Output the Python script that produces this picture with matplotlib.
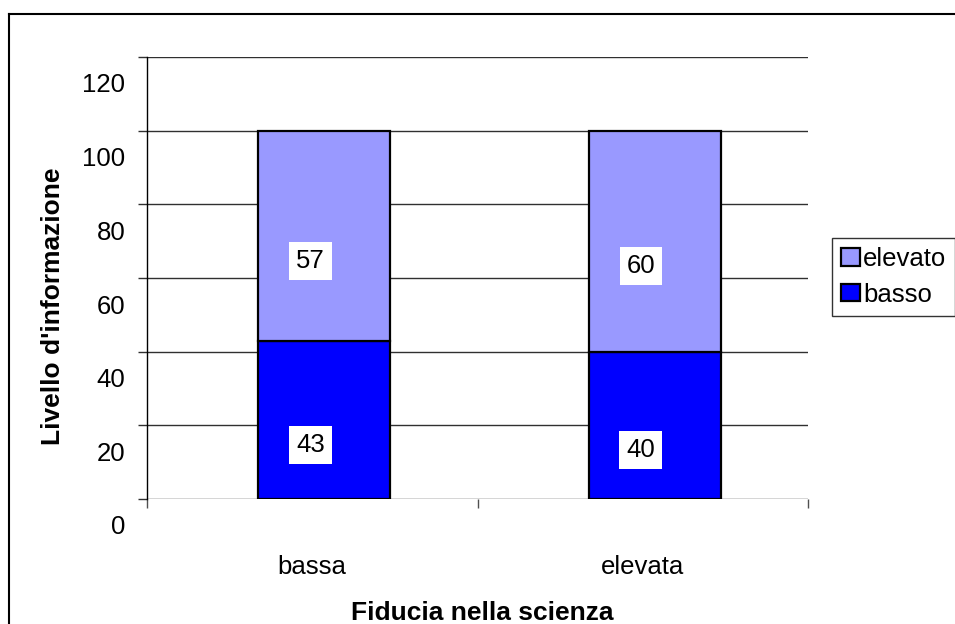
import matplotlib
matplotlib.use("Agg")
import matplotlib.pyplot as plt
from matplotlib.transforms import ScaledTranslation
from matplotlib.lines import Line2D
import numpy as np

plt.rcParams['font.family'] = ['Liberation Sans', 'DejaVu Sans']

categories = ['bassa', 'elevata']
basso = [43, 40]
elevato = [57, 60]
yticks = [0, 20, 40, 60, 80, 100, 120]
xlabel = 'Fiducia nella scienza'
ylabel = "Livello d'informazione"

W, H, DPI = 955, 624, 100
fig = plt.figure(figsize=(W / DPI, H / DPI), dpi=DPI)
ax = fig.add_axes([147 / W, 1 - 499 / H, (808 - 147) / W, (499 - 57) / H])

FS = 18.5
FSB = 19
x = np.arange(len(categories))

def px(dx, dy):
    return ScaledTranslation(dx / DPI, dy / DPI, fig.dpi_scale_trans)

bar_tr = ax.transData + px(12, 0)
b1 = ax.bar(x, basso, width=0.4, color='#0000FF', edgecolor='black', linewidth=1.6, label='basso', zorder=3)
b2 = ax.bar(x, elevato, width=0.4, bottom=basso, color='#9999FF', edgecolor='black', linewidth=1.6, label='elevato', zorder=3)
for p in list(b1) + list(b2):
    p.set_transform(bar_tr)

lab_tr = ax.transData + px(-2, -25)
for i in range(len(categories)):
    ax.text(x[i], basso[i] / 2, str(basso[i]), ha='center', va='center', fontsize=FS,
            transform=lab_tr, zorder=5,
            bbox=dict(boxstyle='square,pad=0.27', facecolor='white', edgecolor='none'))
    ax.text(x[i], basso[i] + elevato[i] / 2, str(elevato[i]), ha='center', va='center', fontsize=FS,
            transform=lab_tr, zorder=5,
            bbox=dict(boxstyle='square,pad=0.27', facecolor='white', edgecolor='none'))

ax.set_xlim(-0.5, len(categories) - 0.5)
ax.set_ylim(0, 120)
ax.set_yticks(yticks)
ax.set_yticklabels([str(v) for v in yticks], fontsize=FS)
ax.yaxis.grid(True, color='#303030', linewidth=1.0, zorder=0)
ax.set_axisbelow(True)
ax.tick_params(axis='y', direction='out', length=6.5, width=1, color='#303030', pad=9)
for lbl in ax.get_yticklabels():
    lbl.set_transform(lbl.get_transform() + px(0, -26))

ax.set_xticks(x)
ax.set_xticklabels(categories, fontsize=FS)
ax.set_xticks(np.arange(len(categories) + 1) - 0.5, minor=True)
ax.tick_params(axis='x', which='major', length=0, pad=40)
ax.tick_params(axis='x', which='minor', direction='out', length=6.5, width=1, color='#505050')

for s in ['top', 'right', 'bottom']:
    ax.spines[s].set_visible(False)
ax.spines['left'].set_color('black')
ax.spines['left'].set_linewidth(1.0)

fig.text(482 / W, 1 - 620 / H, xlabel, ha='center', va='baseline', fontsize=FSB, fontweight='bold')
fig.text(53 / W, 1 - 306 / H, ylabel, ha='center', va='center', rotation=90, fontsize=FSB, fontweight='bold')

leg = fig.legend([b2, b1], ['elevato', 'basso'], loc='upper left',
                 bbox_to_anchor=(832 / W, 1 - 238 / H), fontsize=FS, frameon=True,
                 fancybox=False, edgecolor='black', handlelength=0.75, handleheight=0.65,
                 handletextpad=0.1, borderpad=0.35, labelspacing=0.45, borderaxespad=0)
leg.get_frame().set_linewidth(1.0)
for patch in leg.get_patches():
    patch.set_linewidth(1.6)

fig.add_artist(Line2D([9 / W, 1], [1 - 14 / H, 1 - 14 / H], color='black', linewidth=1.5))
fig.add_artist(Line2D([9 / W, 9 / W], [0, 1 - 14 / H], color='black', linewidth=1.5))

fig.savefig('out.png', dpi=DPI)
